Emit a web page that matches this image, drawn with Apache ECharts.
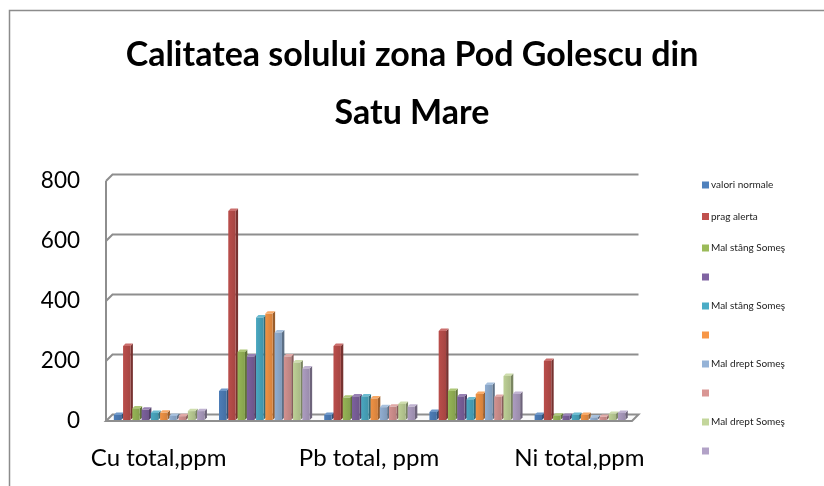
<!DOCTYPE html>
<html><head><meta charset="utf-8">
<script src="https://cdn.jsdelivr.net/npm/echarts@6/dist/echarts.min.js"></script>
<style>html,body{margin:0;padding:0;background:#fff}#c{width:824px;height:486px}</style>
</head><body><div id="c"></div>
<script>
const categories = ['Cu total,ppm', 'Zn total,ppm', 'Pb total, ppm', 'Cr total,ppm', 'Ni total,ppm'];
const seriesNames = ['valori normale', 'prag alerta', 'Mal stâng Someş', '', 'Mal stâng Someş', '', 'Mal drept Someş', '', 'Mal drept Someş', ''];
const valoriNormale = [20, 100, 20, 30, 20];
const pragAlerta    = [250, 700, 250, 300, 200];
const malStang1     = [42, 230, 78, 100, 18];
const serie4        = [38, 215, 82, 82, 17];
const malStang2     = [27, 345, 82, 72, 20];
const serie6        = [28, 358, 75, 90, 20];
const malDrept1     = [17, 295, 46, 120, 12];
const serie8        = [16, 215, 48, 80, 14];
const malDrept2     = [33, 195, 57, 150, 24];
const serie10       = [33, 175, 48, 90, 27];
const yTicks = [0, 200, 400, 600, 800];

const seriesValues = [valoriNormale, pragAlerta, malStang1, serie4, malStang2, serie6, malDrept1, serie8, malDrept2, serie10];
const baseColors = ['#4F81BD', '#C0504D', '#9BBB59', '#8064A2', '#4BACC6', '#F79646', '#95B3D7', '#D99694', '#C3D69B', '#B2A2C7'];

const FONT = 'Lato, Carlito, Calibri, sans-serif';
const DEPTH = 6.5;
const N = seriesValues.length;
const GRID_COLOR = '#8e8e8e';

function mix(hex, f) {
  const r = parseInt(hex.slice(1, 3), 16), g = parseInt(hex.slice(3, 5), 16), b = parseInt(hex.slice(5, 7), 16);
  const t = c => f <= 1 ? Math.round(c * f) : Math.round(c + (255 - c) * (f - 1));
  return 'rgb(' + t(r) + ',' + t(g) + ',' + t(b) + ')';
}

function barRenderer(sIdx) {
  return function (params, api) {
    const cat = api.value(0), val = api.value(1);
    const p0 = api.coord([cat, 0]);
    const p1 = api.coord([cat, val]);
    const band = api.size([1, 0])[0];
    const slot = band * 0.88 / N;
    const w = slot * 0.8;
    const d = slot * 0.26;
    const x0 = p0[0] - band * 0.44 + sIdx * slot + 1.5;
    const yb = p0[1] - 1, yt = p1[1];
    const c = baseColors[sIdx];
    return {
      type: 'group', children: [
        { type: 'polygon', shape: { points: [[x0 + w, yb], [x0 + w + d, yb - d], [x0 + w + d, yt - d], [x0 + w, yt]] }, style: { fill: mix(c, 0.62) } },
        { type: 'polygon', shape: { points: [[x0, yt], [x0 + d, yt - d], [x0 + w + d, yt - d], [x0 + w, yt]] }, style: { fill: mix(c, 1.18) } },
        { type: 'rect', shape: { x: x0, y: yt, width: w, height: yb - yt }, style: { fill: { type: 'linear', x: 0, y: 0, x2: 1, y2: 0, colorStops: [{ offset: 0, color: mix(c, 0.97) }, { offset: 1, color: mix(c, 0.86) }] } } }
      ]
    };
  };
}

function wallRenderer(params, api) {
  const cs = params.coordSys;
  const v = api.value(1);
  const y = api.coord([0, v])[1];
  const y0 = api.coord([0, 0])[1];
  const children = [];
  if (v === 0) {
    children.push({ type: 'polygon', shape: { points: [[cs.x, y], [cs.x + cs.width, y], [cs.x + cs.width + DEPTH, y - DEPTH], [cs.x + DEPTH, y - DEPTH]] }, style: { fill: '#fafafa', stroke: GRID_COLOR, lineWidth: 2 } });
  } else {
    children.push({ type: 'polyline', shape: { points: [[cs.x, y], [cs.x + DEPTH, y - DEPTH], [cs.x + cs.width + DEPTH, y - DEPTH]] }, style: { stroke: GRID_COLOR, lineWidth: 2, fill: null } });
  }
  if (v === yTicks[yTicks.length - 1]) {
    children.push({ type: 'line', shape: { x1: cs.x, y1: y, x2: cs.x, y2: y0 }, style: { stroke: GRID_COLOR, lineWidth: 2 } });
  }
  return { type: 'group', children: children };
}

const series = [{
  type: 'custom', name: '__walls', z: 1, silent: true,
  renderItem: wallRenderer,
  data: yTicks.map(v => [0, v]),
  encode: { x: 0, y: 1 }
}];
seriesValues.forEach((vals, i) => {
  series.push({
    type: 'custom', name: 's' + i, z: 3,
    itemStyle: { color: baseColors[i] },
    renderItem: barRenderer(i),
    data: vals.map((v, j) => [j, v]),
    encode: { x: 0, y: 1 }
  });
});

const chart = echarts.init(document.getElementById('c'), null, { renderer: 'canvas' });
chart.setOption({
  animation: false,
  backgroundColor: '#fff',
  title: {
    text: 'Calitatea solului zona Pod Golescu din\nSatu Mare',
    left: 'center', top: 26,
    padding: [0, 0, 0, 24],
    textStyle: { fontFamily: FONT, fontWeight: 'bold', fontSize: 34, lineHeight: 58, color: '#000' }
  },
  graphic: [{
    type: 'rect', z: -10, silent: true,
    shape: { x: 9.5, y: 10.5, width: 1000, height: 1000 },
    style: { fill: null, stroke: '#8c8c8c', lineWidth: 1.5 }
  }],
  legend: {
    orient: 'vertical', left: 697, top: 174,
    icon: 'rect', itemWidth: 7, itemHeight: 7, itemGap: 19.5,
    data: seriesNames.map((n, i) => 's' + i),
    formatter: name => seriesNames[+name.slice(1)],
    textStyle: { fontFamily: FONT, fontSize: 10, lineHeight: 12, color: '#222', padding: [0, 0, 0, -3] },
    selectedMode: false
  },
  grid: { left: 106, right: 192, top: 181, bottom: 65 },
  xAxis: {
    type: 'category', data: categories,
    axisLine: { show: false }, axisTick: { show: false }, splitLine: { show: false },
    axisLabel: { interval: 1, margin: 25, fontFamily: FONT, fontSize: 24, color: '#000' }
  },
  yAxis: {
    type: 'value', min: 0, max: 800, interval: 200,
    axisLine: { show: false }, axisTick: { show: false }, splitLine: { show: false },
    axisLabel: { margin: 26, fontFamily: FONT, fontSize: 22.5, color: '#000' }
  },
  series: series
});
</script></body></html>
